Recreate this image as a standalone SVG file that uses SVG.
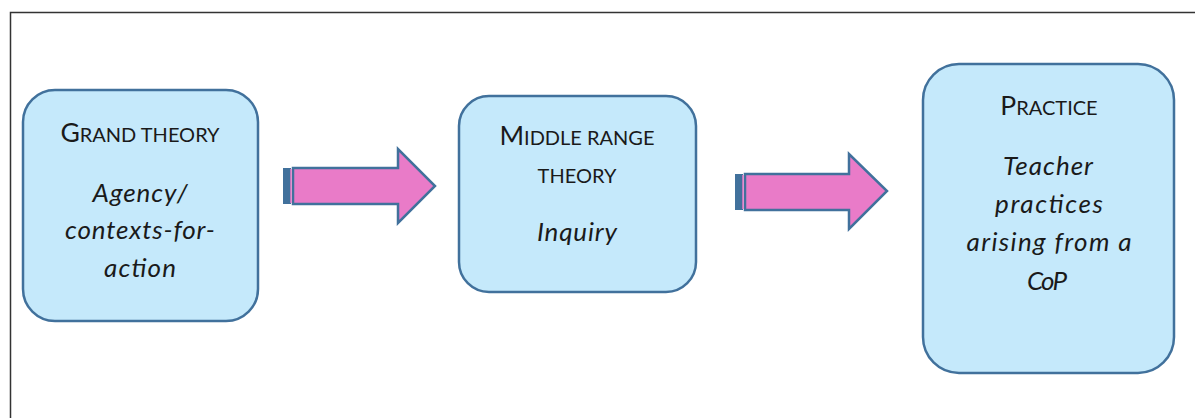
<svg xmlns="http://www.w3.org/2000/svg" width="1195" height="418" viewBox="0 0 1195 418">
<style>
.box{fill:#C5E9FB;stroke:#41719C;stroke-width:2.5}
.arr{fill:#E97BC8;stroke:#41719C;stroke-width:2.5;stroke-linejoin:miter}
.stub{fill:#41719C}
.h{font-family:Lato,"Liberation Sans",sans-serif;fill:#1a1a1a;text-anchor:middle}
.big{font-size:26.5px}
.sm{font-size:20px}
.it{font-family:Lato,"Liberation Sans",sans-serif;font-style:italic;font-size:26px;fill:#1a1a1a;text-anchor:middle}
</style>
<rect x="10.5" y="12.5" width="1200" height="420" fill="#fff" stroke="#333" stroke-width="1.5"/>
<g id="connectors">
  <g id="arrow1">
    <rect class="stub" x="283" y="168" width="8" height="36"/>
    <polygon class="arr" points="293,168 398,168 398,149 435,186 398,223 398,204 293,204"/>
    <line x1="291" y1="169" x2="291" y2="203" stroke="#E97BC8" stroke-width="1.5"/>
  </g>
  <g id="arrow2">
    <rect class="stub" x="735" y="174" width="8" height="36"/>
    <polygon class="arr" points="745,174 849,174 849,154 887,191 849,229 849,210 745,210"/>
    <line x1="743" y1="175" x2="743" y2="209" stroke="#E97BC8" stroke-width="1.5"/>
  </g>
</g>
<g id="grand-theory">
  <rect class="box" x="23" y="90" width="235" height="231" rx="32"/>
  <text class="h" x="140" y="142"><tspan class="big">G</tspan><tspan class="sm">RAND THEORY</tspan></text>
  <text class="it" x="140" y="202" textLength="95">Agency/</text>
  <text class="it" x="140" y="239" textLength="150">contexts-for-</text>
  <text class="it" x="140" y="277" textLength="72">action</text>
</g>
<g id="middle-range-theory">
  <rect class="box" x="459" y="96" width="237" height="196" rx="30"/>
  <text class="h" x="577" y="145"><tspan class="big">M</tspan><tspan class="sm">IDDLE RANGE</tspan></text>
  <text class="h sm" x="577" y="183">THEORY</text>
  <text class="it" x="577" y="241" textLength="80">Inquiry</text>
</g>
<g id="practice">
  <rect class="box" x="923" y="64" width="251" height="309" rx="36"/>
  <text class="h" x="1049" y="115"><tspan class="big">P</tspan><tspan class="sm">RACTICE</tspan></text>
  <text class="it" x="1048" y="175" textLength="90">Teacher</text>
  <text class="it" x="1049" y="213" textLength="108">practices</text>
  <text class="it" x="1049" y="251" textLength="165">arising from a</text>
  <text class="it" x="1047" y="290" textLength="40">CoP</text>
</g>
</svg>
